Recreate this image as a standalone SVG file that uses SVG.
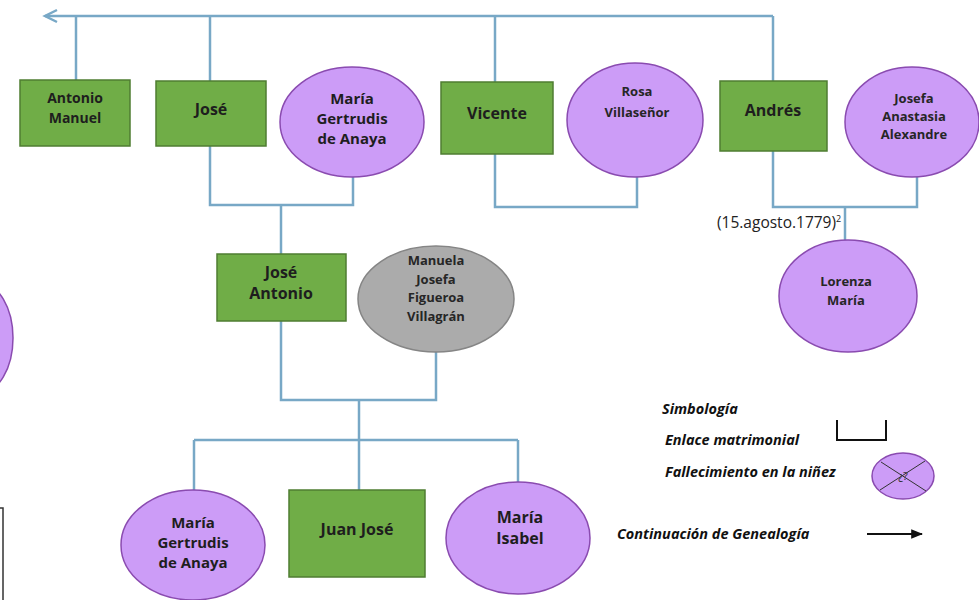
<svg xmlns="http://www.w3.org/2000/svg" width="979" height="600" viewBox="0 0 979 600">
  <style>
    .m { fill: #70ad47; stroke: #4f7d32; stroke-width: 1.5; }
    .f { fill: #cc9cf7; stroke: #8a4bb0; stroke-width: 1.5; }
    .g { fill: #ababab; stroke: #858585; stroke-width: 1.5; }
    .lnk { fill: none; stroke: #78a8c6; stroke-width: 2.5; }
    .t { font-family: "Open Sans", "Liberation Sans", sans-serif; font-weight: bold; font-size: 15px; fill: #1e1e1e; text-anchor: middle; }
    .t14 { font-size: 14px; }
    .t16 { font-size: 16px; }
    .ts { font-family: "Open Sans", "Liberation Sans", sans-serif; font-weight: bold; font-size: 13px; fill: #262626; text-anchor: middle; }
    .lg { font-family: "Open Sans", "Liberation Sans", sans-serif; font-weight: bold; font-style: italic; font-size: 14.5px; fill: #111; }
    .dt { font-family: "Open Sans", "Liberation Sans", sans-serif; font-size: 15.5px; fill: #222; }
  </style>
  <defs>
    <marker id="arrowhead" viewBox="0 0 10 10" refX="9" refY="5" markerWidth="6" markerHeight="6" orient="auto">
      <path d="M0,1 L10,5 L0,9 z" fill="#111"/>
    </marker>
  </defs>

  <rect width="979" height="600" fill="#ffffff"/>

  <!-- connectors -->
  <g id="connectors" class="lnk">
    <!-- sibling line with continuation arrow -->
    <path d="M45,16 H773"/>
    <path d="M57,10 L45,16 L57,22"/>
    <path d="M76,16 V80"/>
    <path d="M210,16 V81"/>
    <path d="M495,16 V82"/>
    <path d="M773,16 V81"/>
    <!-- José + María Gertrudis -->
    <path d="M210,146 V205 H353 V177"/>
    <path d="M281,205 V254"/>
    <!-- Vicente + Rosa -->
    <path d="M495,154 V207 H637 V177"/>
    <!-- Andrés + Josefa -->
    <path d="M773,151 V207 H917 V177"/>
    <path d="M845,207 V240"/>
    <!-- José Antonio + Manuela -->
    <path d="M281,321 V400 H436 V352"/>
    <path d="M359,400 V490"/>
    <path d="M194,440 H518"/>
    <path d="M194,440 V490"/>
    <path d="M518,440 V482"/>
  </g>

  <!-- partial shapes at the left edge -->
  <g id="edge-left">
    <ellipse class="f" cx="-20" cy="338" rx="33" ry="55"/>
    <rect x="-100" y="508" width="103" height="110" fill="#ffffff" stroke="#333" stroke-width="1.5"/>
  </g>

  <g id="antonio-manuel">
    <rect class="m" x="20" y="80" width="110" height="66"/>
    <text class="t t14" x="75" y="103">Antonio</text>
    <text class="t t14" x="75" y="123">Manuel</text>
  </g>

  <g id="jose">
    <rect class="m" x="156" y="81" width="110" height="65"/>
    <text class="t t16" x="211" y="115">José</text>
  </g>

  <g id="maria-gertrudis">
    <ellipse class="f" cx="352" cy="122" rx="72" ry="55"/>
    <text class="t" x="352" y="104">María</text>
    <text class="t" x="352" y="124">Gertrudis</text>
    <text class="t" x="352" y="144">de Anaya</text>
  </g>

  <g id="vicente">
    <rect class="m" x="441" y="82" width="112" height="72"/>
    <text class="t t16" x="497" y="119">Vicente</text>
  </g>

  <g id="rosa-villasenor">
    <ellipse class="f" cx="635" cy="120" rx="68" ry="57"/>
    <text class="ts" x="637" y="96">Rosa</text>
    <text class="ts" x="637" y="117">Villaseñor</text>
  </g>

  <g id="andres">
    <rect class="m" x="720" y="81" width="107" height="70"/>
    <text class="t t16" x="773" y="116">Andrés</text>
  </g>

  <g id="josefa-anastasia">
    <ellipse class="f" cx="912" cy="122" rx="67" ry="55"/>
    <text class="ts" x="914" y="103">Josefa</text>
    <text class="ts" x="914" y="121">Anastasia</text>
    <text class="ts" x="914" y="139">Alexandre</text>
  </g>

  <g id="marriage-date">
    <text class="dt" x="717" y="228">(15.agosto.1779)<tspan font-size="9" dy="-6">2</tspan></text>
  </g>

  <g id="lorenza-maria">
    <ellipse class="f" cx="848" cy="296" rx="69" ry="56"/>
    <text class="ts" x="846" y="286">Lorenza</text>
    <text class="ts" x="846" y="305">María</text>
  </g>

  <g id="jose-antonio">
    <rect class="m" x="217" y="254" width="129" height="67"/>
    <text class="t t16" x="281" y="278">José</text>
    <text class="t t16" x="281" y="299">Antonio</text>
  </g>

  <g id="manuela-josefa">
    <ellipse class="g" cx="436" cy="299" rx="78" ry="53"/>
    <text class="ts" x="436" y="265">Manuela</text>
    <text class="ts" x="436" y="284">Josefa</text>
    <text class="ts" x="436" y="302">Figueroa</text>
    <text class="ts" x="436" y="321">Villagrán</text>
  </g>

  <g id="maria-gertrudis-hija">
    <ellipse class="f" cx="193" cy="545" rx="72" ry="55"/>
    <text class="t" x="193" y="528">María</text>
    <text class="t" x="193" y="548">Gertrudis</text>
    <text class="t" x="193" y="568">de Anaya</text>
  </g>

  <g id="juan-jose">
    <rect class="m" x="289" y="490" width="136" height="87"/>
    <text class="t t16" x="357" y="535">Juan José</text>
  </g>

  <g id="maria-isabel">
    <ellipse class="f" cx="518" cy="538" rx="72" ry="56"/>
    <text class="t t16" x="520" y="523">María</text>
    <text class="t t16" x="520" y="544">Isabel</text>
  </g>

  <!-- key -->
  <g id="simbologia">
    <text class="lg" x="662" y="414">Simbología</text>
    <text class="lg" x="665" y="445">Enlace matrimonial</text>
    <path d="M837,420 V440 H886 V420" fill="none" stroke="#111" stroke-width="2"/>
    <text class="lg" x="665" y="477">Fallecimiento en la niñez</text>
    <ellipse class="f" cx="903" cy="476" rx="31" ry="23"/>
    <path d="M881,462 L926,491 M925,461 L880,490" stroke="#333" stroke-width="1"/>
    <text x="903" y="480" font-family="'Open Sans', 'Liberation Sans', sans-serif" font-size="11" fill="#333" text-anchor="middle">¿?</text>
    <text class="lg" x="617" y="539">Continuación de Genealogía</text>
    <path d="M867,534 H922" stroke="#111" stroke-width="2" marker-end="url(#arrowhead)"/>
  </g>
</svg>
